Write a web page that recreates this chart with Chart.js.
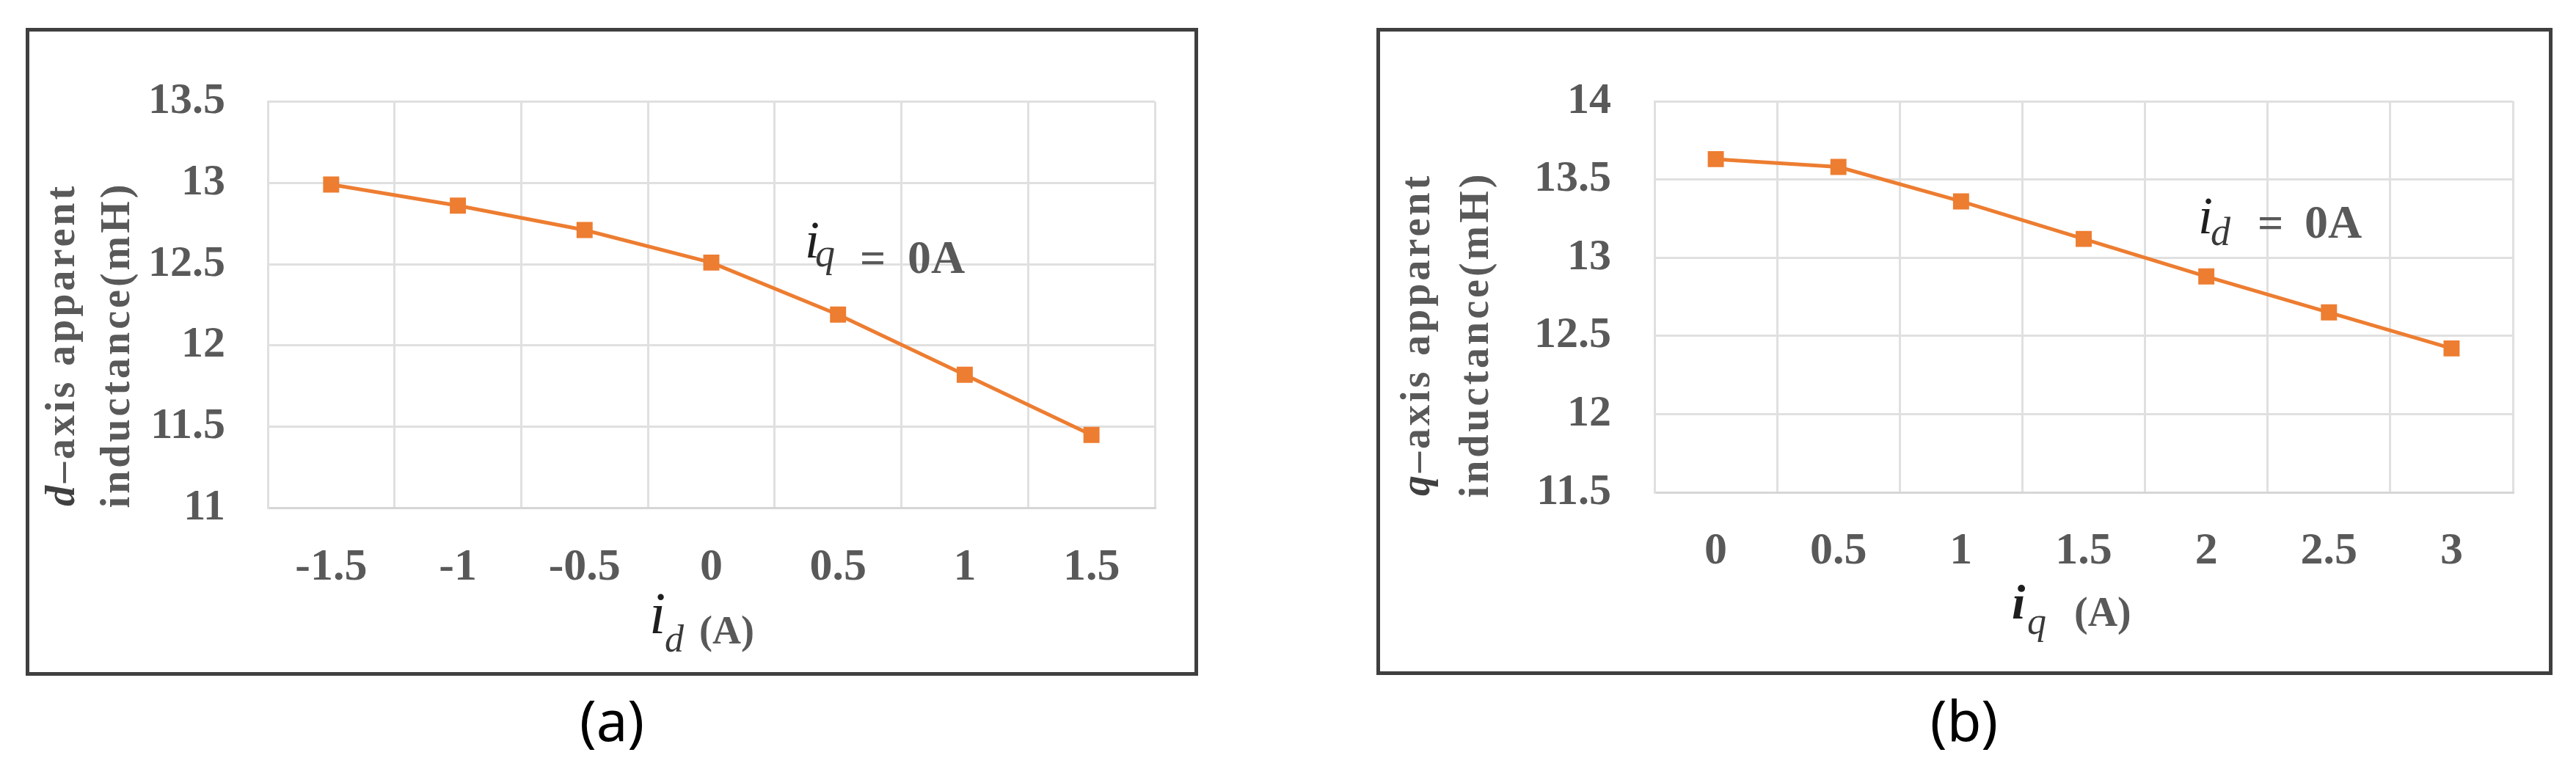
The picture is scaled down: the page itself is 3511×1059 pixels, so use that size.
<!DOCTYPE html>
<html><head><meta charset="utf-8">
<script src="https://cdn.jsdelivr.net/npm/chart.js@4.4.1/dist/chart.umd.min.js"></script>
<style>
html,body{margin:0;padding:0;background:#fff;width:3511px;height:1059px;overflow:hidden;position:relative}
.frame{position:absolute;box-sizing:border-box;border:5px solid #3f3f3f}
canvas{position:absolute}
.cap{position:absolute;font-family:"Noto Sans",sans-serif;font-size:76px;color:#000;transform:translateX(-50%);line-height:1;white-space:nowrap}
</style></head><body>
<div class="frame" style="left:35px;top:38px;width:1598px;height:883px"></div>
<div class="frame" style="left:1876px;top:38px;width:1603px;height:882px"></div>
<canvas id="ca" width="1588" height="873" style="left:40px;top:43px"></canvas>
<canvas id="cb" width="1593" height="872" style="left:1881px;top:43px"></canvas>
<div class="cap" style="left:834px;top:943px">(a)</div>
<div class="cap" style="left:2677px;top:943px">(b)</div>
<script>
// ---- data ----
const catsA = ['-1.5', '-1', '-0.5', '0', '0.5', '1', '1.5'];
const valsA = [12.99, 12.86, 12.71, 12.51, 12.19, 11.82, 11.45];
const yRangeA = [11, 13.5];
const catsB = ['0', '0.5', '1', '1.5', '2', '2.5', '3'];
const valsB = [13.63, 13.58, 13.36, 13.12, 12.88, 12.65, 12.42];
const yRangeB = [11.5, 14];
const yStep = 0.5;

// ---- styles ----
const ORANGE = '#ED7D31';
const GRID = '#e0e0e0';
const TICK = '#595959';
const DARK = '#1e1e1e';
const SERIF = '"Liberation Serif", "Times New Roman", serif';

function drawParts(ctx, parts) {
  ctx.textAlign = 'left';
  ctx.textBaseline = 'alphabetic';
  for (const p of parts) {
    ctx.font = p.f;
    ctx.fillStyle = p.c;
    ctx.fillText(p.s, p.x, p.y);
  }
}

function drawYTitle(ctx, lines, cy) {
  for (const line of lines) {
    ctx.save();
    try { ctx.letterSpacing = line.ls || '0px'; } catch (e) {}
    let total = 0;
    for (const p of line.parts) { ctx.font = p.f; total += ctx.measureText(p.s).width; }
    ctx.translate(line.x, cy);
    ctx.rotate(-Math.PI / 2);
    ctx.textAlign = 'left';
    ctx.textBaseline = 'alphabetic';
    let sx = -total / 2;
    for (const p of line.parts) {
      ctx.font = p.f; ctx.fillStyle = p.c;
      ctx.fillText(p.s, sx, 0);
      sx += ctx.measureText(p.s).width;
    }
    ctx.restore();
  }
}

function makeChart(id, cats, vals, yRange, cfg) {
  const textPlugin = {
    id: 'paneltext_' + id,
    afterDraw(chart) {
      const ctx = chart.ctx;
      ctx.save();
      drawParts(ctx, cfg.xTitle);
      drawParts(ctx, cfg.note);
      drawYTitle(ctx, cfg.yTitle, cfg.yTitleCy);
      ctx.restore();
    }
  };
  return new Chart(document.getElementById(id), {
    type: 'line',
    data: {
      labels: cats,
      datasets: [{
        data: vals,
        borderColor: ORANGE,
        backgroundColor: ORANGE,
        borderWidth: 5,
        pointStyle: 'rect',
        pointRadius: 15.5,
        pointBorderWidth: 0,
        pointBackgroundColor: ORANGE,
        tension: 0,
        fill: false
      }]
    },
    options: {
      responsive: false,
      devicePixelRatio: 1,
      animation: false,
      layout: { padding: { top: cfg.padTop, right: cfg.padRight, left: 0, bottom: 0 } },
      plugins: { legend: { display: false }, tooltip: { enabled: false }, title: { display: false } },
      scales: {
        x: {
          type: 'category',
          offset: true,
          grid: { offset: true, color: GRID, lineWidth: 3, drawTicks: false },
          border: { display: true, color: '#d6d6d6', width: 3 },
          ticks: { padding: cfg.xPad, color: TICK, font: { family: SERIF, weight: 'bold', size: 62 }, maxRotation: 0, autoSkip: false },
          afterFit(s) { s.height = cfg.xH; }
        },
        y: {
          min: yRange[0], max: yRange[1],
          grid: { color: GRID, lineWidth: 3, drawTicks: false },
          border: { display: true, color: GRID, width: 3 },
          ticks: {
            stepSize: yStep, padding: cfg.yPad, color: TICK,
            font: { family: SERIF, weight: 'bold', size: 60 },
            callback: (v) => String(Math.round(v * 10) / 10)
          },
          afterFit(s) { s.width = cfg.yW; }
        }
      }
    },
    plugins: [textPlugin]
  });
}

const F = (style, size) => style + ' ' + size + 'px ' + SERIF;

makeChart('ca', catsA, valsA, yRangeA, {
  padTop: 95.5, padRight: 54, xH: 223.5, yW: 325, yPad: 58, xPad: 44,
  xTitle: [
    { s: 'i', x: 845, y: 820, f: F('italic', 80), c: DARK },
    { s: 'd', x: 866, y: 845, f: F('italic', 52), c: '#3a3a3a' },
    { s: '(A)', x: 913, y: 834, f: F('bold', 54), c: TICK }
  ],
  note: [
    { s: 'i', x: 1057, y: 308, f: F('italic', 72), c: DARK },
    { s: 'q', x: 1071, y: 320, f: F('italic', 54), c: '#3a3a3a' },
    { s: '=', x: 1132, y: 329, f: F('bold', 62), c: TICK },
    { s: '0A', x: 1197, y: 329, f: F('bold', 64), c: TICK }
  ],
  yTitleCy: 427,
  yTitle: [
    { x: 61, ls: '4px', parts: [{ s: 'd', f: F('italic bold', 56), c: '#404040' }, { s: '\u2013axis apparent', f: F('bold', 56), c: TICK }] },
    { x: 136, ls: '4px', parts: [{ s: 'inductance(mH)', f: F('bold', 56), c: TICK }] }
  ]
});

makeChart('cb', catsB, valsB, yRangeB, {
  padTop: 88.8, padRight: 49, xH: 244, yW: 374, yPad: 59, xPad: 44,
  xTitle: [
    { s: 'i', x: 861, y: 800, f: F('italic bold', 66), c: DARK },
    { s: 'q', x: 882, y: 821, f: F('italic', 52), c: '#3a3a3a' },
    { s: '(A)', x: 946, y: 810, f: F('bold', 56), c: TICK }
  ],
  note: [
    { s: 'i', x: 1115, y: 275, f: F('italic', 72), c: DARK },
    { s: 'd', x: 1132, y: 291, f: F('italic', 54), c: '#3a3a3a' },
    { s: '=', x: 1196, y: 281, f: F('bold', 62), c: TICK },
    { s: '0A', x: 1260, y: 281, f: F('bold', 64), c: TICK }
  ],
  yTitleCy: 413,
  yTitle: [
    { x: 67, ls: '4px', parts: [{ s: 'q', f: F('italic bold', 56), c: '#404040' }, { s: '\u2013axis apparent', f: F('bold', 56), c: TICK }] },
    { x: 147, ls: '4px', parts: [{ s: 'inductance(mH)', f: F('bold', 56), c: TICK }] }
  ]
});
</script>
</body></html>
